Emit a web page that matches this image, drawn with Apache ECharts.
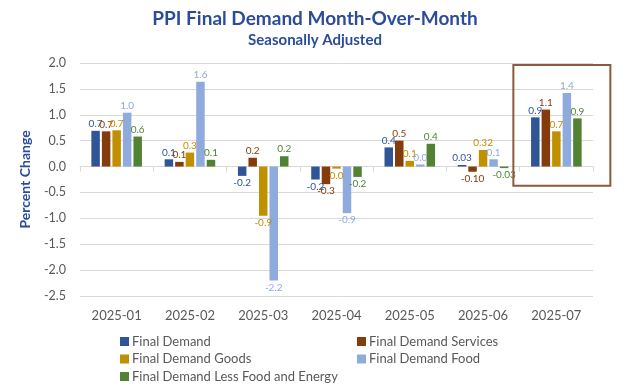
<!DOCTYPE html>
<html>
<head>
<meta charset="utf-8">
<script src="https://cdn.jsdelivr.net/npm/echarts@6/dist/echarts.min.js"></script>
<style>html,body{margin:0;padding:0;background:#fff}#c{width:630px;height:386px}</style>
</head>
<body>
<div id="c"></div>
<script>
const categories = ['2025-01','2025-02','2025-03','2025-04','2025-05','2025-06','2025-07'];
const seriesNames = ['Final Demand','Final Demand Services','Final Demand Goods','Final Demand Food','Final Demand Less Food and Energy'];
const finalDemand        = [0.69, 0.14, -0.18, -0.25, 0.37, 0.03, 0.95];
const finalDemandServ    = [0.68, 0.09, 0.17, -0.34, 0.50, -0.10, 1.10];
const finalDemandGoods   = [0.70, 0.27, -0.95, -0.04, 0.11, 0.32, 0.68];
const finalDemandFood    = [1.04, 1.64, -2.20, -0.90, 0.04, 0.14, 1.42];
const finalDemandCore    = [0.58, 0.13, 0.20, -0.20, 0.44, -0.03, 0.93];
const labelsFinalDemand  = ['0.7','0.1','-0.2','-0.2','0.4','0.03','0.9'];
const labelsServ         = ['0.7','0.1','0.2','-0.3','0.5','-0.10','1.1'];
const labelsGoods        = ['0.7','0.3','-0.9','0.0','0.1','0.32','0.7'];
const labelsFood         = ['1.0','1.6','-2.2','-0.9','0.0','0.1','1.4'];
const labelsCore         = ['0.6','0.1','0.2','-0.2','0.4','-0.03','0.9'];

const colors = ['#2F5597','#843C0C','#BF9000','#8FAADC','#548235'];
const allValues = [finalDemand, finalDemandServ, finalDemandGoods, finalDemandFood, finalDemandCore];
const allLabels = [labelsFinalDemand, labelsServ, labelsGoods, labelsFood, labelsCore];
const FONT = 'Lato, "Open Sans", sans-serif';

const chart = echarts.init(document.getElementById('c'), null, {renderer:'canvas'});
const series = seriesNames.map((name, s) => ({
  name, type:'bar',
  barGap:'24%', barCategoryGap:'31%',
  itemStyle:{color:colors[s]},
  label:{show:true, color:colors[s], fontSize:10, fontFamily:FONT, distance:2},
  data: allValues[s].map((v,i)=>({value:v, label:{position: v<0?'bottom':'top', formatter: allLabels[s][i]}})),
}));

// legend layout: two columns, three rows
const legendPos = [[120,335],[357,335],[120,352.5],[357,352.5],[120,370]];
const legends = seriesNames.map((n,i)=>({
  data:[n], left:legendPos[i][0], top:legendPos[i][1], orient:'horizontal',
  itemWidth:9, itemHeight:9, icon:'rect', padding:0,
  textStyle:{fontFamily:FONT, fontSize:13, color:'#595959', padding:[0,0,0,-2]}
}));

chart.setOption({
  animation:false,
  color:colors,
  title:[
    {text:'PPI Final Demand Month-Over-Month', left:'center', top:4,
     textStyle:{fontFamily:FONT, fontSize:19, fontWeight:'bold', color:'#2B4C9B'}},
    {text:'Seasonally Adjusted', left:'center', top:28,
     textStyle:{fontFamily:FONT, fontSize:15, fontWeight:'bold', color:'#2B4C9B'}}
  ],
  grid:{left:80, right:37, top:63, bottom:90},
  xAxis:{
    type:'category', data:categories,
    axisLine:{onZero:true, lineStyle:{color:'#D9D9D9'}},
    axisTick:{show:true, length:5, lineStyle:{color:'#D9D9D9'}},
    axisLabel:{show:false}
  },
  yAxis:{
    type:'value', min:-2.5, max:2.0, interval:0.5,
    name:'Percent Change', nameLocation:'middle', nameGap:48, nameRotate:90,
    nameTextStyle:{fontFamily:FONT, fontSize:14, fontWeight:'bold', color:'#2B4C9B'},
    axisLine:{show:false}, axisTick:{show:false},
    axisLabel:{fontFamily:FONT, fontSize:12.5, color:'#595959', margin:14, formatter:v=>v.toFixed(1)},
    splitLine:{lineStyle:{color:'#D9D9D9'}}
  },
  legend:legends,
  series
});

// category labels placed below the plot (the axis line sits at zero)
const yBottom = chart.convertToPixel({yAxisIndex:0}, -2.5);
const graphics = categories.map(c => ({
  type:'text', x: chart.convertToPixel({xAxisIndex:0}, c), y: yBottom + 20,
  style:{text:c, fontFamily:FONT, fontSize:13, fill:'#595959', align:'center', verticalAlign:'middle'}
}));
const cx = chart.convertToPixel({xAxisIndex:0}, categories[6]);
const yTop = chart.convertToPixel({yAxisIndex:0}, 2.0);
const yBox = chart.convertToPixel({yAxisIndex:0}, -0.37);
graphics.push({type:'rect', shape:{x:cx-43, y:yTop+2, width:97, height:yBox-yTop-2},
  style:{fill:'none', stroke:'#8C5A3C', lineWidth:2}, z:100});
chart.setOption({graphic:graphics});
</script>
</body>
</html>
